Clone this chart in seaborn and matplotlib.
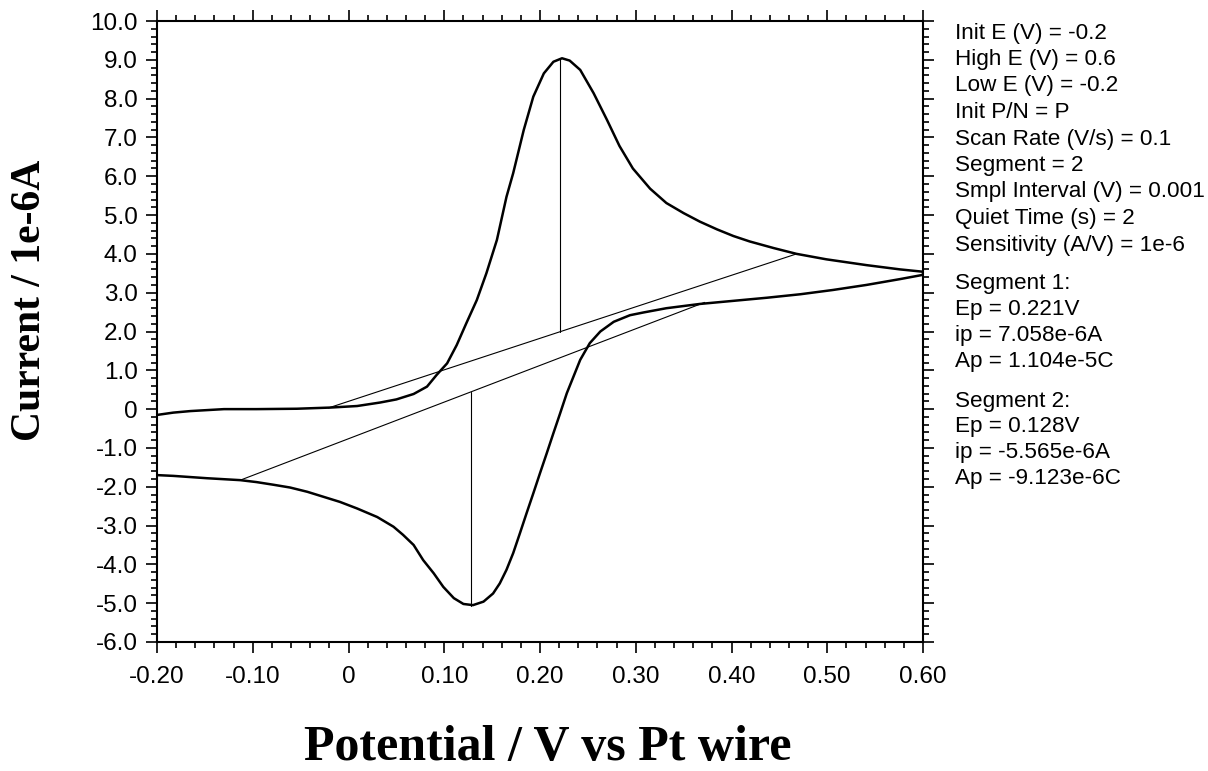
import matplotlib
matplotlib.use("Agg")
import matplotlib.pyplot as plt
import pandas as pd
import seaborn as sns
from matplotlib.ticker import MultipleLocator, FuncFormatter

# forward scan (segment 1)
fwd_potential = [-0.200, -0.183, -0.165, -0.130, -0.096, -0.054, -0.019, 0.009, 0.033,
                 0.050, 0.068, 0.082, 0.092, 0.103, 0.113, 0.123, 0.134, 0.144,
                 0.155, 0.165, 0.172, 0.183, 0.193, 0.204, 0.214, 0.223, 0.231,
                 0.242, 0.256, 0.270, 0.283, 0.297, 0.315, 0.332, 0.350, 0.367,
                 0.385, 0.402, 0.419, 0.444, 0.468, 0.499, 0.541, 0.576, 0.600]
fwd_current = [-0.15, -0.09, -0.05, 0.00, 0.00, 0.01, 0.04, 0.08, 0.17,
               0.25, 0.39, 0.58, 0.88, 1.18, 1.65, 2.21, 2.81, 3.50,
               4.36, 5.47, 6.08, 7.19, 8.05, 8.65, 8.95, 9.04, 8.98,
               8.74, 8.14, 7.45, 6.78, 6.20, 5.68, 5.31, 5.05, 4.83,
               4.63, 4.46, 4.32, 4.15, 4.00, 3.86, 3.71, 3.60, 3.54]

# reverse scan (segment 2)
rev_potential = [0.600, 0.576, 0.541, 0.506, 0.472, 0.437, 0.402, 0.367, 0.332,
                 0.308, 0.294, 0.277, 0.263, 0.252, 0.242, 0.235, 0.228, 0.221,
                 0.214, 0.207, 0.200, 0.193, 0.186, 0.179, 0.172, 0.165, 0.158,
                 0.151, 0.141, 0.130, 0.120, 0.110, 0.099, 0.089, 0.078, 0.068,
                 0.057, 0.047, 0.030, 0.009, -0.009, -0.026, -0.043, -0.061,
                 -0.078, -0.096, -0.113, -0.148, -0.183, -0.200]
rev_current = [3.46, 3.35, 3.20, 3.07, 2.96, 2.87, 2.79, 2.71, 2.60,
               2.49, 2.42, 2.25, 2.00, 1.70, 1.27, 0.84, 0.41, -0.11,
               -0.62, -1.14, -1.65, -2.17, -2.68, -3.20, -3.71, -4.14, -4.49,
               -4.75, -4.96, -5.05, -5.02, -4.87, -4.58, -4.23, -3.89, -3.50,
               -3.24, -3.03, -2.78, -2.56, -2.39, -2.26, -2.13, -2.02,
               -1.95, -1.88, -1.83, -1.78, -1.72, -1.70]

# peak baselines and peak markers
base1_potential = [-0.021, 0.468]
base1_current = [0.03, 4.00]
base2_potential = [-0.113, 0.372]
base2_current = [-1.83, 2.75]
peak1_potential = [0.221, 0.221]
peak1_current = [1.99, 9.05]
peak2_potential = [0.128, 0.128]
peak2_current = [0.45, -5.07]

info_top = ["Init E (V) = -0.2", "High E (V) = 0.6", "Low E (V) = -0.2",
            "Init P/N = P", "Scan Rate (V/s) = 0.1", "Segment = 2",
            "Smpl Interval (V) = 0.001", "Quiet Time (s) = 2",
            "Sensitivity (A/V) = 1e-6"]
info_seg1 = ["Segment 1:", "Ep = 0.221V", "ip = 7.058e-6A", "Ap = 1.104e-5C"]
info_seg2 = ["Segment 2:", "Ep = 0.128V", "ip = -5.565e-6A", "Ap = -9.123e-6C"]

sns.set_style("ticks")
plt.rcParams["font.family"] = ["Liberation Sans", "DejaVu Sans"]
plt.rcParams["text.color"] = "black"
plt.rcParams["axes.labelcolor"] = "black"

cv = pd.DataFrame({
    "potential": fwd_potential + rev_potential,
    "current": fwd_current + rev_current,
})

fig = plt.figure(figsize=(12.08, 7.71), dpi=100)
ax = fig.add_axes([157 / 1208, 1 - 642 / 771, 766 / 1208, 621 / 771])

sns.lineplot(data=cv, x="potential", y="current", sort=False, estimator=None,
             color="black", linewidth=1.8, ax=ax)
for xs, ys in [(base1_potential, base1_current), (base2_potential, base2_current),
               (peak1_potential, peak1_current), (peak2_potential, peak2_current)]:
    sns.lineplot(x=xs, y=ys, sort=False, estimator=None, color="black",
                 linewidth=0.8, ax=ax)

ax.set_xlim(-0.2, 0.6)
ax.set_ylim(-6, 10)
ax.xaxis.set_major_locator(MultipleLocator(0.1))
ax.xaxis.set_minor_locator(MultipleLocator(0.02))
ax.yaxis.set_major_locator(MultipleLocator(1.0))
ax.yaxis.set_minor_locator(MultipleLocator(0.2))


def fmt_x(v, pos):
    return "0" if abs(v) < 1e-9 else f"{v:.2f}"


def fmt_y(v, pos):
    return "0" if abs(v) < 1e-9 else f"{v:.1f}"


ax.xaxis.set_major_formatter(FuncFormatter(fmt_x))
ax.yaxis.set_major_formatter(FuncFormatter(fmt_y))
ax.tick_params(which="both", direction="out", top=True, right=True,
               color="black", width=1.2, labelsize=17.5, labelcolor="black")
ax.tick_params(which="major", length=8)
ax.tick_params(which="minor", length=4)
ax.tick_params(axis="x", which="major", pad=9)
ax.tick_params(axis="y", which="major", pad=6)
for side in ["left", "right", "top", "bottom"]:
    ax.spines[side].set_visible(True)
    ax.spines[side].set_linewidth(1.5)
    ax.spines[side].set_color("black")

serif_bold = dict(family=["Liberation Serif", "DejaVu Serif"], fontweight="bold",
                  color="black")
ax.set_xlabel("Potential / V vs Pt wire", va="center", fontsize=36, **serif_bold)
ax.set_ylabel("Current / 1e-6A", va="center", fontsize=30, **serif_bold)
ax.xaxis.set_label_coords(0.51, (642 - 748) / 621)
ax.yaxis.set_label_coords((30 - 157) / 766, (642 - 300) / 621)

# instrument parameter block on the right
for i, line in enumerate(info_top):
    fig.text(955 / 1208, 1 - (33 + 26.5 * i) / 771, line, fontsize=16.2,
             va="center", ha="left")
for i, line in enumerate(info_seg1):
    fig.text(955 / 1208, 1 - (284 + 25.7 * i) / 771, line, fontsize=16.2,
             va="center", ha="left")
for i, line in enumerate(info_seg2):
    fig.text(955 / 1208, 1 - (401 + 25.7 * i) / 771, line, fontsize=16.2,
             va="center", ha="left")

fig.savefig("out.png", dpi=100, facecolor="white")
plt.close(fig)
